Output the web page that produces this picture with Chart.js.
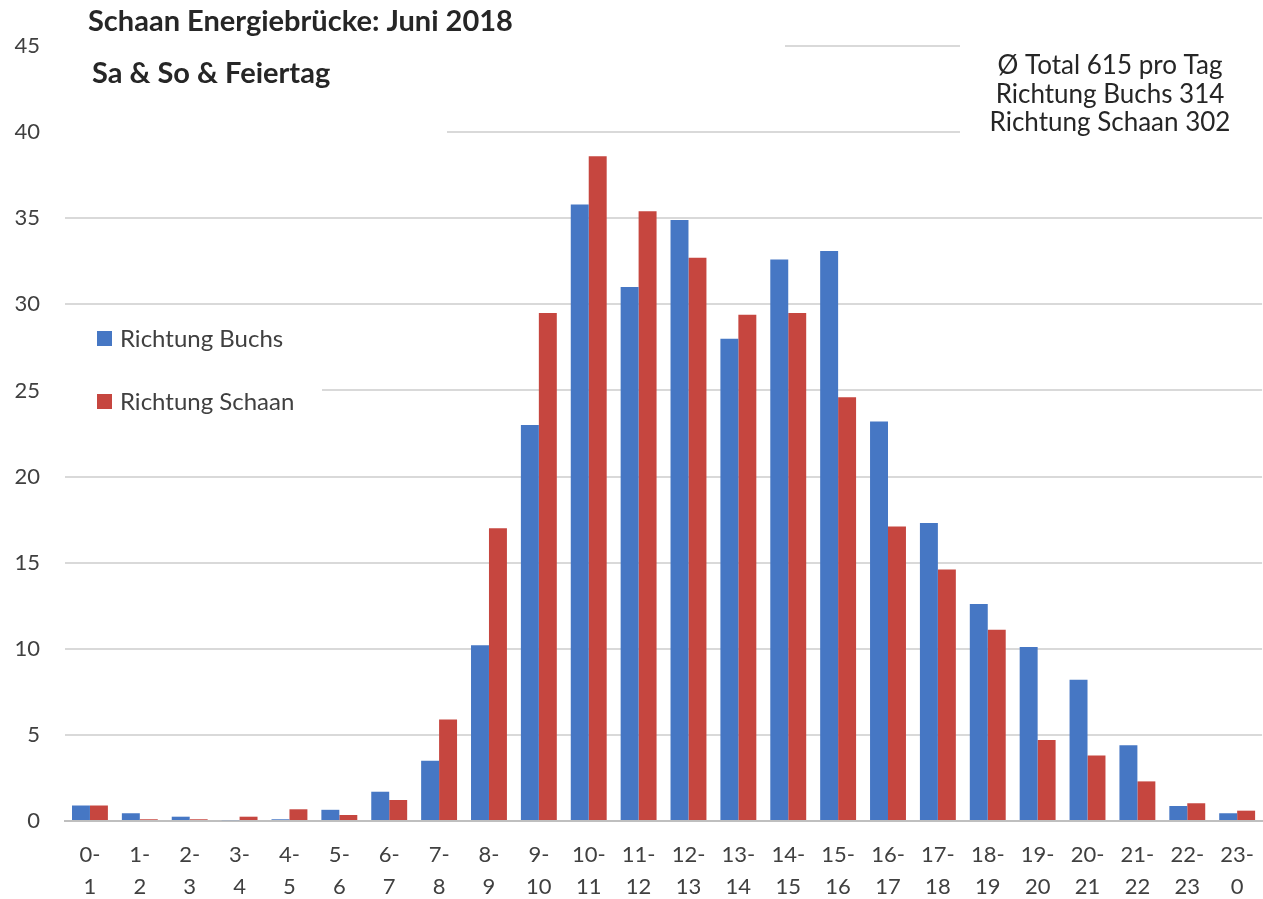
<!DOCTYPE html>
<html>
<head>
<meta charset="utf-8">
<script src="https://cdn.jsdelivr.net/npm/chart.js@4.4.0/dist/chart.umd.min.js"></script>
<style>
  html, body { margin: 0; padding: 0; background: #fff; overflow: hidden; }
  #wrap { position: relative; width: 1272px; height: 899px; }
</style>
</head>
<body>
<div id="wrap"><canvas id="energie-bar"></canvas></div>
<script>
var hours = [['0-','1'],['1-','2'],['2-','3'],['3-','4'],['4-','5'],['5-','6'],['6-','7'],['7-','8'],
             ['8-','9'],['9-','10'],['10-','11'],['11-','12'],['12-','13'],['13-','14'],['14-','15'],['15-','16'],
             ['16-','17'],['17-','18'],['18-','19'],['19-','20'],['20-','21'],['21-','22'],['22-','23'],['23-','0']];
var richtungBuchs  = [0.9, 0.45, 0.25, 0.05, 0.1, 0.65, 1.7, 3.5, 10.2, 23.0, 35.8, 31.0,
                      34.9, 28.0, 32.6, 33.1, 23.2, 17.3, 12.6, 10.1, 8.2, 4.4, 0.87, 0.45];
var richtungSchaan = [0.9, 0.1, 0.1, 0.25, 0.68, 0.35, 1.22, 5.9, 17.0, 29.5, 38.6, 35.4,
                      32.7, 29.4, 29.5, 24.6, 17.1, 14.6, 11.1, 4.7, 3.8, 2.3, 1.03, 0.6];
var yTicks = [0, 5, 10, 15, 20, 25, 30, 35, 40, 45];

var chartTitle = 'Schaan Energiebrücke: Juni 2018';
var chartSubtitle = 'Sa & So & Feiertag';
var notes = ['Ø Total 615 pro Tag', 'Richtung Buchs 314', 'Richtung Schaan 302'];

var FONT = 'Lato, "Open Sans", sans-serif';

// white text boxes on top of the grid, plus the titles, notes and legend
var overlay = {
	id: 'overlay',
	afterDraw: function(chart) {
		var ctx = chart.ctx;
		var ys = chart.scales.y;
		var left = chart.chartArea.left;
		ctx.save();
		ctx.fillStyle = '#fff';
		ctx.fillRect(left, 0, 785 - left, ys.getPixelForValue(43.5));
		ctx.fillRect(left, 0, 447 - left, ys.getPixelForValue(39.5));
		ctx.fillRect(960, ys.getPixelForValue(45.5), chart.width - 960, ys.getPixelForValue(39.5) - ys.getPixelForValue(45.5));
		ctx.fillRect(left, ys.getPixelForValue(29.4), 322 - left, ys.getPixelForValue(23.2) - ys.getPixelForValue(29.4));

		ctx.textBaseline = 'middle';
		ctx.fillStyle = '#262626';
		ctx.textAlign = 'left';
		ctx.font = 'bold 29px ' + FONT;
		ctx.fillText(chartTitle, 88, 22);
		ctx.fillText(chartSubtitle, 92, 74);

		ctx.font = '26px ' + FONT;
		ctx.textAlign = 'center';
		notes.forEach(function(t, i) {
			ctx.fillText(t, 1110, 66 + i * 28.5);
		});

		ctx.textAlign = 'left';
		ctx.font = '24px ' + FONT;
		chart.data.datasets.forEach(function(ds, i) {
			var y = 338 + i * 63;
			ctx.fillStyle = ds.backgroundColor;
			ctx.fillRect(97, y - 7, 15, 15);
			ctx.fillStyle = '#404040';
			ctx.fillText(ds.label, 120, y + 1);
		});
		ctx.restore();
	}
};

new Chart(document.getElementById('energie-bar'), {
	type: 'bar',
	data: {
		labels: hours,
		datasets: [
			{ label: 'Richtung Buchs', backgroundColor: '#4677c4', data: richtungBuchs },
			{ label: 'Richtung Schaan', backgroundColor: '#c6463f', data: richtungSchaan }
		]
	},
	options: {
		responsive: true,
		maintainAspectRatio: false,
		animation: false,
		layout: { padding: { top: 46, right: 0, left: 0, bottom: 0 } },
		categoryPercentage: 0.72,
		barPercentage: 1.0,
		plugins: {
			legend: { display: false },
			title: { display: false },
			tooltip: { enabled: false }
		},
		scales: {
			x: {
				grid: { display: false, drawTicks: false },
				border: { display: true, color: '#bfbfbf', width: 2 },
				ticks: {
					color: '#404040',
					font: { family: FONT, size: 22, lineHeight: 1.45 },
					padding: 18,
					maxRotation: 0,
					autoSkip: false
				},
				afterFit: function(s) { s.height = 78; }
			},
			y: {
				min: 0,
				max: 45,
				afterBuildTicks: function(s) { s.ticks = yTicks.map(function(v) { return { value: v }; }); },
				grid: {
					drawTicks: false,
					lineWidth: 2,
					color: function(c) { return c.tick && c.tick.value === 0 ? '#bfbfbf' : '#d9d9d9'; }
				},
				border: { display: false },
				ticks: {
					color: '#404040',
					font: { family: FONT, size: 22 },
					padding: 25
				},
				afterFit: function(s) { s.width = 65; }
			}
		}
	},
	plugins: [overlay]
});
</script>
</body>
</html>
